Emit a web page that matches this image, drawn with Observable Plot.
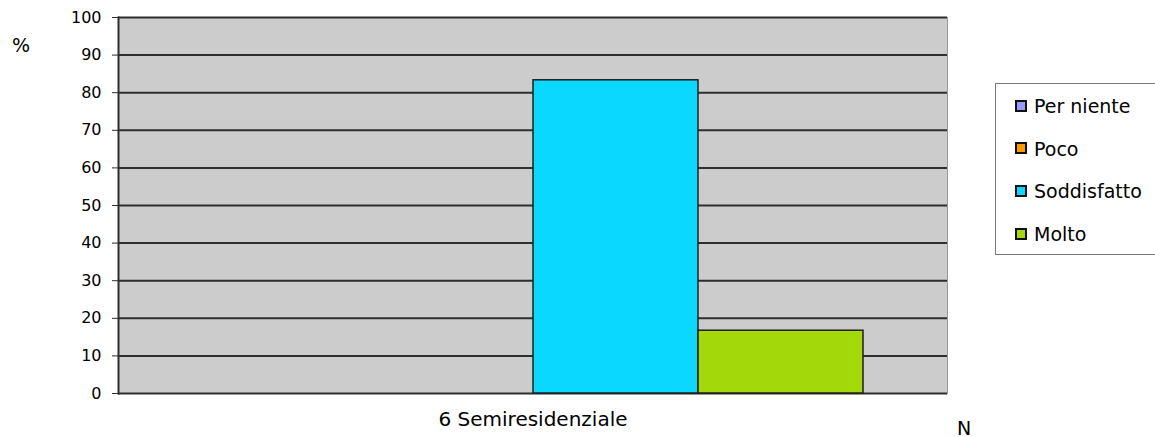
<!DOCTYPE html>
<html>
<head>
<meta charset="utf-8">
<script src="https://cdn.jsdelivr.net/npm/d3@7"></script>
<script src="https://cdn.jsdelivr.net/npm/@observablehq/plot@0.6"></script>
<style>
  html, body { margin: 0; padding: 0; background: #fff; overflow: hidden; }
  #wrap { position: relative; width: 1155px; height: 437px; font-family: "DejaVu Sans", Verdana, sans-serif; color: #000; }
  #chart svg { display: block; }
  .lbl { position: absolute; font-size: 19px; line-height: 19px; white-space: nowrap; }
  #legend { position: absolute; left: 995px; top: 83px; width: 200px; height: 172px; box-sizing: border-box; border: 1px solid #7a7a7a; background: #fff; }
  .item { position: absolute; left: 19px; display: flex; align-items: center; font-size: 19px; line-height: 19px; white-space: nowrap; }
  .sw { width: 8px; height: 8px; border: 2px solid #111; margin-right: 7px; margin-top: -2px; }
</style>
</head>
<body>
<div id="wrap">
  <div id="chart"></div>
  <span class="lbl" id="ylab" style="left:12px; top:36px;"></span>
  <span class="lbl" id="xlab" style="left:957px; top:419px;"></span>
  <div id="legend"></div>
</div>
<script>
const categories = ["6 Semiresidenziale"];
const series = ["Per niente", "Poco", "Soddisfatto", "Molto"];
const values = [0, 0, 83.3, 16.7];
const colors = ["#9999ff", "#ff9900", "#0ad8ff", "#a3d80a"];
const yTicks = [0, 10, 20, 30, 40, 50, 60, 70, 80, 90, 100];
const yLabel = "%";
const xLabel = "N";

const data = series.map((s, i) => ({category: categories[0], series: s, value: values[i]}));

const chart = Plot.plot({
  width: 1155,
  height: 437,
  marginLeft: 118,
  marginRight: 208,
  marginTop: 17,
  marginBottom: 44,
  style: {fontFamily: "DejaVu Sans, Verdana, sans-serif", fontSize: "16px", color: "#000", background: "#fff"},
  fx: {domain: categories, padding: 0, label: null, axis: null},
  x: {domain: series, paddingInner: 0, paddingOuter: 0.5, axis: null},
  y: {domain: [0, 100], axis: null},
  color: {domain: series, range: colors},
  marks: [
    Plot.frame({fill: "#cccccc", stroke: "#9a9a9a"}),
    Plot.ruleY(yTicks, {stroke: "#2e2e2e", strokeWidth: 2}),
    Plot.barY(data, {fx: "category", x: "series", y: "value", fill: "series", stroke: "#1e1e1e", strokeWidth: 1.5}),
    Plot.frame({anchor: "left", stroke: "#2e2e2e", strokeWidth: 2}),
    Plot.axisY({ticks: yTicks, tickSize: 6, tickPadding: 11, fontSize: 16, stroke: "#2e2e2e", label: null}),
    Plot.axisFx({anchor: "bottom", tickSize: 0, tickPadding: 18, fontSize: 20, label: null})
  ]
});
document.getElementById("chart").appendChild(chart);

document.getElementById("ylab").textContent = yLabel;
document.getElementById("xlab").textContent = xLabel;

const legend = document.getElementById("legend");
series.forEach((s, i) => {
  const item = document.createElement("div");
  item.className = "item";
  item.style.top = (13 + i * 42.7) + "px";
  const sw = document.createElement("span");
  sw.className = "sw";
  sw.style.background = colors[i];
  const t = document.createElement("span");
  t.textContent = s;
  item.appendChild(sw);
  item.appendChild(t);
  legend.appendChild(item);
});
</script>
</body>
</html>
